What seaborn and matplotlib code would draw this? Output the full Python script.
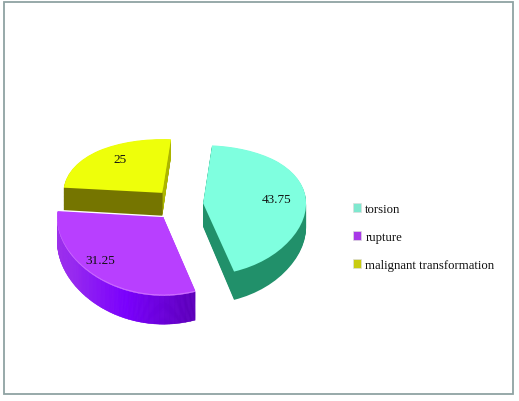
import numpy as np
import matplotlib
matplotlib.use("Agg")
import matplotlib.pyplot as plt
import seaborn as sns
from matplotlib.colors import LinearSegmentedColormap
from matplotlib.patches import Patch, Rectangle, Wedge

categories = ["torsion", "rupture", "malignant transformation"]
values = [43.75, 31.25, 25]
top_colors = ["#7fffdf", "#b83fff", "#eeff0a"]
side_colors = ["#21906a", "#8a20f0", "#757500"]
legend_colors = ["#7fe8cf", "#a838e8", "#c8cc10"]
label_xy = [(277, 200), (100, 261), (120, 160)]   # pixel centres of the value labels

W, H = 519, 402
RX = 103          # pie x radius in pixels
EXPLODE = [0.24, 0.235, 0.245]
RADIUS = [1.0, 1.03, 0.96]   # near slices look a little bigger
LAYERS = 28
DEPTH = 0.35      # extrusion, in data units
CY = -0.17

sns.set_theme(style="white")
plt.rcParams["font.family"] = ["Liberation Serif", "DejaVu Sans"]
side_cmap = LinearSegmentedColormap.from_list(
    "purple_side", ["#a63ae8", "#9a2cf0", "#7a00ff", "#5c00b8"]
)


# tilted view: the far half of the pie is squashed, the near half stretched
def forward(y):
    return 63 * y - 7 * np.asarray(y) ** 2


def inverse(v):
    return (63 - np.sqrt(np.maximum(3969 - 28 * np.asarray(v), 0))) / 14


fig = plt.figure(figsize=(W / 100, H / 100), dpi=100, facecolor="white")
ax = fig.add_axes([0, 1 - 340 / H, 1, 220 / H])

for i in range(LAYERS + 1):
    shift = DEPTH * (1 - i / LAYERS)
    colors = top_colors if i == LAYERS else side_colors
    wedges, _ = ax.pie(
        values,
        explode=EXPLODE,
        colors=colors,
        startangle=85,
        counterclock=False,
        center=(0, CY - shift),
        wedgeprops={"linewidth": 0},
    )
    for w, f in zip(wedges, RADIUS):
        w.set_radius(w.r * f)
    if i == LAYERS:
        continue
    # the rupture wall fades along its arc, the malignant wall catches light
    w = wedges[1]
    edges = np.linspace(w.theta1, w.theta2, 41)
    for j in range(40):
        c = "#cf6fff" if i == LAYERS - 1 else side_cmap(j / 39)   # pale rim under the top
        ax.add_patch(
            Wedge(w.center, w.r, edges[j], edges[j + 1],
                  facecolor=c, edgecolor=c, linewidth=0.3)
        )
    w = wedges[2]
    ax.add_patch(Wedge(w.center, w.r, w.theta1, w.theta1 + 4,
                       facecolor="#d8e800", edgecolor="none", linewidth=0))

ax.set_aspect("auto")
ax.set_xlim(-178.5 / RX, (W - 178.5) / RX)
ax.set_yscale("function", functions=(forward, inverse))
ax.set_ylim(inverse(-145), inverse(75))
ax.set_xticks([])
ax.set_yticks([])
ax.minorticks_off()
ax.axis("off")

for v, (x, y) in zip(values, label_xy):
    fig.text(x / W, 1 - y / H, f"{v:g}", ha="center", va="center",
             fontsize=9.5, color="#111111")

handles = [Patch(facecolor=c, edgecolor="#dddddd", linewidth=0.5) for c in legend_colors]
fig.legend(
    handles, categories,
    loc="center left",
    bbox_to_anchor=(341 / W, 1 - 238 / H),
    frameon=False,
    fontsize=9.2,
    handlelength=0.7,
    handleheight=0.7,
    handletextpad=0.3,
    labelspacing=1.25,
    labelcolor="#111111",
)

fig.add_artist(Rectangle((3.5 / W, 1 - 395 / H), 509.5 / W, 392 / H,
                         transform=fig.transFigure, fill=False,
                         edgecolor="#8fa3a3", linewidth=1.3))

fig.savefig("out.png", dpi=100)
